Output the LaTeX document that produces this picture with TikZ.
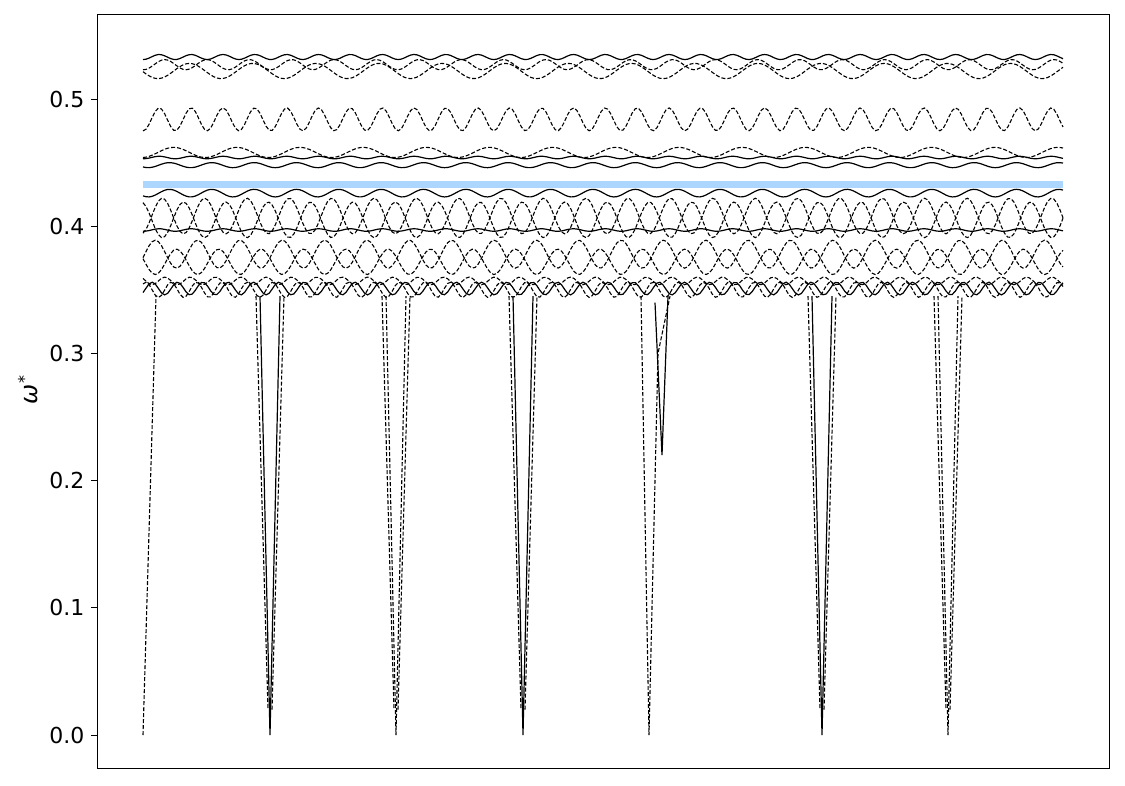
\documentclass[tikz,border=0pt]{standalone}
\usepackage{fontspec}
\setmainfont{DejaVu Sans}
\tikzset{
  band/.style={black,line width=1.2pt},
  dband/.style={black,line width=1.1pt,dash pattern=on 4pt off 2pt},
  ticklab/.style={anchor=east,font=\fontsize{22}{22}\selectfont},
}
\begin{document}
\begin{tikzpicture}[x=1pt,y=-1pt]
\useasboundingbox (0,0) rectangle (1125,785);
% axes frame
\node[draw,line width=0.9pt,minimum width=1012pt,minimum height=754pt,anchor=north west,inner sep=0pt] (frame) at (97,14) {};
\foreach \v/\t in {0/0.0,1/0.1,2/0.2,3/0.3,4/0.4,5/0.5}{
  \draw[line width=0.9pt] (97,735-127.2*\v) -- (91,735-127.2*\v);
  \node[ticklab] (tk\v) at (88,735-127.2*\v) {\t};
}
\node[rotate=90,font=\fontsize{24}{24}\selectfont\itshape] (ylab) at (28,390) {ω\raisebox{0.6ex}{\fontsize{16}{16}\selectfont *}};
% flat band highlight
\fill[blue!50!cyan!40!white,opacity=0.8] (143,181) rectangle (1063,188);
% bands
\draw[band] plot[domain=143:1063,samples=300] (\x,{735-1272*(0.533+0.002*cos(11.3*\x))});
\draw[dband] plot[domain=143:1063,samples=300] (\x,{735-1272*(0.522+0.006*cos(5.7*\x))});
\draw[dband] plot[domain=143:1063,samples=300] (\x,{735-1272*(0.527+0.004*cos(8.5*\x+40))});
\draw[dband] plot[domain=143:1063,samples=300] (\x,{735-1272*(0.484+0.009*cos(11.3*\x))});
\draw[dband] plot[domain=143:1063,samples=300] (\x,{735-1272*(0.458+0.004*cos(5.7*\x+90))});
\draw[band] plot[domain=143:1063,samples=300] (\x,{735-1272*(0.454+0.001*cos(11.3*\x))});
\draw[band] plot[domain=143:1063,samples=300] (\x,{735-1272*(0.448+0.002*cos(8.5*\x))});
\draw[band] plot[domain=143:1063,samples=300] (\x,{735-1272*(0.426+0.003*cos(8.5*\x))});
\draw[dband] plot[domain=143:1063,samples=300] (\x,{735-1272*(0.408+0.014*cos(8.5*\x+60))});
\draw[dband] plot[domain=143:1063,samples=300] (\x,{735-1272*(0.405+0.014*cos(8.5*\x+240))});
\draw[band] plot[domain=143:1063,samples=300] (\x,{735-1272*(0.397+0.001*cos(11.3*\x))});
\draw[dband] plot[domain=143:1063,samples=300] (\x,{735-1272*(0.378+0.011*cos(8.5*\x+120))});
\draw[dband] plot[domain=143:1063,samples=300] (\x,{735-1272*(0.372+0.010*cos(8.5*\x+300))});
\draw[band] plot[domain=143:1063,samples=300] (\x,{735-1272*(0.351+0.005*cos(14.2*\x))});
\draw[dband] plot[domain=143:1063,samples=300] (\x,{735-1272*(0.350+0.006*cos(14.2*\x+90))});
\draw[dband] plot[domain=143:1063,samples=300] (\x,{735-1272*(0.357+0.003*cos(14.2*\x+180))});
% dips
\coordinate (s0) at (143,735);
\coordinate (s1) at (156,735-1272*0.345);
\draw[dband] (s0) -- (s1);
\foreach \d/\kind in {270/band,396/dband,523/band,822/band,948/dband}{
  \coordinate (a\d) at (\d-10,735-1272*0.345);
  \coordinate (b\d) at (\d,735);
  \coordinate (c\d) at (\d+10,735-1272*0.345);
  \draw[\kind] (a\d) -- (b\d) -- (c\d);
  \draw[dband] (\d-14,735-1272*0.345) -- (\d-2,735-1272*0.02) (\d+2,735-1272*0.02) -- (\d+14,735-1272*0.345);
}
\coordinate (e1) at (641,735-1272*0.345);
\coordinate (e2) at (649,735);
\coordinate (e3) at (658,735-1272*0.3);
\draw[dband] (e1) -- (e2) -- (e3) -- (670,735-1272*0.345);
\draw[band] (655,735-1272*0.34) -- (662,735-1272*0.22) -- (668,735-1272*0.345);
\end{tikzpicture}
\end{document}
